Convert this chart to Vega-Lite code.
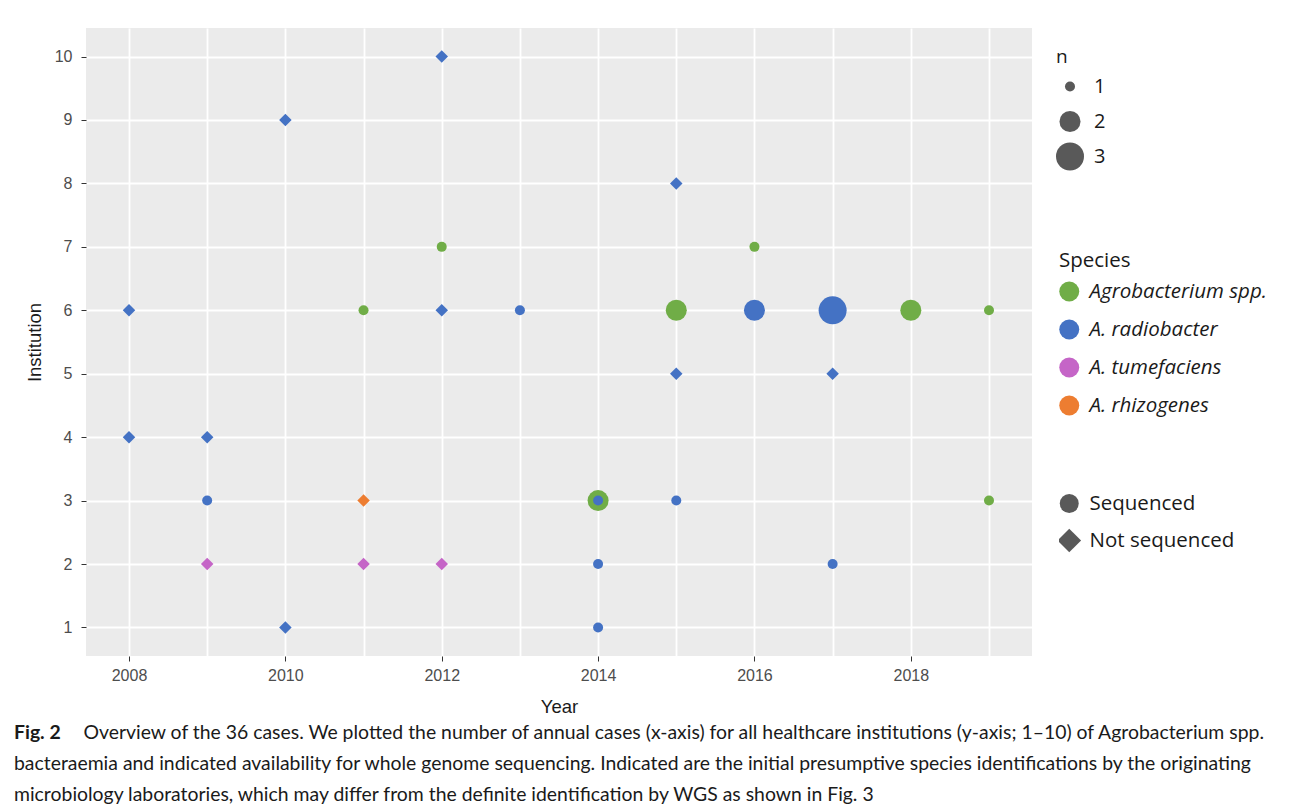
{
  "$schema": "https://vega.github.io/schema/vega-lite/v6.json",
  "width": 946,
  "height": 628,
  "autosize": {"type": "none"},
  "padding": {"left": 86, "top": 28, "right": 261, "bottom": 152},
  "background": "white",
  "config": {
    "view": {"fill": "#EBEBEB", "stroke": null},
    "font": "Liberation Sans"
  },
  "title": {
    "text": "Fig. 2",
    "subtitle": [
      "\u200b\u00a0\u00a0\u00a0\u00a0\u00a0\u00a0\u00a0\u00a0\u00a0\u00a0\u00a0\u00a0\u00a0\u00a0Overview of the 36 cases. We plotted the number of annual cases (x-axis) for all healthcare institutions (y-axis; 1–10) of Agrobacterium spp.",
      "bacteraemia and indicated availability for whole genome sequencing. Indicated are the initial presumptive species identifications by the originating",
      "microbiology laboratories, which may differ from the definite identification by WGS as shown in Fig. 3"
    ],
    "orient": "bottom",
    "anchor": "start",
    "frame": "group",
    "dx": -72,
    "offset": 8,
    "font": "Lato",
    "fontSize": 19.4,
    "fontWeight": "bold",
    "color": "#1a1a1a",
    "subtitleFont": "Lato",
    "subtitleFontSize": 19.4,
    "subtitleColor": "#1a1a1a",
    "subtitleLineHeight": 31,
    "subtitlePadding": -19.4
  },
  "data": {
    "values": [
      {"Year": 2008, "Institution": 6, "Species": "A. radiobacter", "Seq": "Not sequenced", "n": 1},
      {"Year": 2008, "Institution": 4, "Species": "A. radiobacter", "Seq": "Not sequenced", "n": 1},
      {"Year": 2009, "Institution": 4, "Species": "A. radiobacter", "Seq": "Not sequenced", "n": 1},
      {"Year": 2009, "Institution": 3, "Species": "A. radiobacter", "Seq": "Sequenced", "n": 1},
      {"Year": 2009, "Institution": 2, "Species": "A. tumefaciens", "Seq": "Not sequenced", "n": 1},
      {"Year": 2010, "Institution": 9, "Species": "A. radiobacter", "Seq": "Not sequenced", "n": 1},
      {"Year": 2010, "Institution": 1, "Species": "A. radiobacter", "Seq": "Not sequenced", "n": 1},
      {"Year": 2011, "Institution": 6, "Species": "Agrobacterium spp.", "Seq": "Sequenced", "n": 1},
      {"Year": 2011, "Institution": 3, "Species": "A. rhizogenes", "Seq": "Not sequenced", "n": 1},
      {"Year": 2011, "Institution": 2, "Species": "A. tumefaciens", "Seq": "Not sequenced", "n": 1},
      {"Year": 2012, "Institution": 10, "Species": "A. radiobacter", "Seq": "Not sequenced", "n": 1},
      {"Year": 2012, "Institution": 7, "Species": "Agrobacterium spp.", "Seq": "Sequenced", "n": 1},
      {"Year": 2012, "Institution": 6, "Species": "A. radiobacter", "Seq": "Not sequenced", "n": 1},
      {"Year": 2012, "Institution": 2, "Species": "A. tumefaciens", "Seq": "Not sequenced", "n": 1},
      {"Year": 2013, "Institution": 6, "Species": "A. radiobacter", "Seq": "Sequenced", "n": 1},
      {"Year": 2014, "Institution": 3, "Species": "Agrobacterium spp.", "Seq": "Sequenced", "n": 2},
      {"Year": 2014, "Institution": 3, "Species": "A. radiobacter", "Seq": "Sequenced", "n": 1},
      {"Year": 2014, "Institution": 2, "Species": "A. radiobacter", "Seq": "Sequenced", "n": 1},
      {"Year": 2014, "Institution": 1, "Species": "A. radiobacter", "Seq": "Sequenced", "n": 1},
      {"Year": 2015, "Institution": 8, "Species": "A. radiobacter", "Seq": "Not sequenced", "n": 1},
      {"Year": 2015, "Institution": 6, "Species": "Agrobacterium spp.", "Seq": "Sequenced", "n": 2},
      {"Year": 2015, "Institution": 5, "Species": "A. radiobacter", "Seq": "Not sequenced", "n": 1},
      {"Year": 2015, "Institution": 3, "Species": "A. radiobacter", "Seq": "Sequenced", "n": 1},
      {"Year": 2016, "Institution": 7, "Species": "Agrobacterium spp.", "Seq": "Sequenced", "n": 1},
      {"Year": 2016, "Institution": 6, "Species": "A. radiobacter", "Seq": "Sequenced", "n": 2},
      {"Year": 2017, "Institution": 6, "Species": "A. radiobacter", "Seq": "Sequenced", "n": 3},
      {"Year": 2017, "Institution": 5, "Species": "A. radiobacter", "Seq": "Not sequenced", "n": 1},
      {"Year": 2017, "Institution": 2, "Species": "A. radiobacter", "Seq": "Sequenced", "n": 1},
      {"Year": 2018, "Institution": 6, "Species": "Agrobacterium spp.", "Seq": "Sequenced", "n": 2},
      {"Year": 2019, "Institution": 6, "Species": "Agrobacterium spp.", "Seq": "Sequenced", "n": 1},
      {"Year": 2019, "Institution": 3, "Species": "Agrobacterium spp.", "Seq": "Sequenced", "n": 1}
    ]
  },
  "mark": {"type": "point", "filled": true, "opacity": 1, "strokeWidth": 0},
  "encoding": {
    "x": {
      "field": "Year",
      "type": "quantitative",
      "scale": {"domain": [2007.45, 2019.55], "nice": false, "zero": false},
      "axis": {
        "title": "Year",
        "values": [2008, 2009, 2010, 2011, 2012, 2013, 2014, 2015, 2016, 2017, 2018, 2019],
        "format": "d",
        "labelExpr": "datum.value % 2 == 0 ? datum.label : ''",
        "domain": false,
        "grid": true,
        "gridColor": "white",
        "gridWidth": 1.8,
        "tickColor": "#333333",
        "tickOpacity": {"condition": {"test": "datum.value % 2 == 1", "value": 0}, "value": 1},
        "tickSize": 5,
        "tickWidth": 1,
        "labelColor": "#4d4d4d",
        "labelFontSize": 16,
        "labelPadding": 6,
        "labelFont": "Liberation Sans",
        "titleFont": "Liberation Sans",
        "titleFontSize": 18.5,
        "titleFontWeight": "normal",
        "titleColor": "#1a1a1a",
        "titlePadding": 14
      }
    },
    "y": {
      "field": "Institution",
      "type": "quantitative",
      "scale": {"domain": [0.55, 10.45], "nice": false, "zero": false},
      "axis": {
        "title": "Institution",
        "values": [1, 1.5, 2, 2.5, 3, 3.5, 4, 4.5, 5, 5.5, 6, 6.5, 7, 7.5, 8, 8.5, 9, 9.5, 10],
        "format": "d",
        "labelExpr": "datum.value % 1 == 0 ? datum.label : ''",
        "domain": false,
        "grid": true,
        "gridColor": "white",
        "gridWidth": 1.8,
        "tickColor": "#333333",
        "tickOpacity": {"condition": {"test": "datum.value % 1 != 0", "value": 0}, "value": 1},
        "tickSize": 5,
        "tickWidth": 1,
        "labelColor": "#4d4d4d",
        "labelFontSize": 16,
        "labelPadding": 9,
        "labelFont": "Liberation Sans",
        "titleFont": "Liberation Sans",
        "titleFontSize": 18.5,
        "titleFontWeight": "normal",
        "titleColor": "#1a1a1a",
        "titlePadding": 10
      }
    },
    "color": {
      "field": "Species",
      "type": "nominal",
      "scale": {
        "domain": ["Agrobacterium spp.", "A. radiobacter", "A. tumefaciens", "A. rhizogenes"],
        "range": ["#70AD47", "#4472C4", "#C565C7", "#ED7D31"]
      },
      "legend": {
        "orient": "none",
        "legendX": 973,
        "legendY": 223,
        "title": "Species",
        "symbolType": "circle",
        "symbolSize": 400,
        "symbolStrokeWidth": 0,
        "labelFontStyle": "italic",
        "labelFont": "Open Sans",
        "labelFontSize": 20.5,
        "labelColor": "#1a1a1a",
        "labelOffset": 10,
        "labelLimit": 300,
        "titleFont": "Open Sans",
        "titleFontSize": 20.5,
        "titleFontWeight": "normal",
        "titleColor": "#1a1a1a",
        "titlePadding": 1,
        "clipHeight": 38,
        "rowPadding": 0
      }
    },
    "shape": {
      "field": "Seq",
      "type": "nominal",
      "scale": {
        "domain": ["Sequenced", "Not sequenced"],
        "range": ["circle", "M-1.25,0L0,-1.25L1.25,0L0,1.25Z"]
      },
      "legend": {
        "orient": "none",
        "legendX": 973,
        "legendY": 457,
        "title": null,
        "symbolSize": 360,
        "symbolFillColor": "#595959",
        "symbolStrokeWidth": 0,
        "labelFont": "Open Sans",
        "labelFontSize": 20.5,
        "labelColor": "#1a1a1a",
        "labelOffset": 10,
        "labelLimit": 300,
        "clipHeight": 37,
        "rowPadding": 0
      }
    },
    "size": {
      "field": "n",
      "type": "quantitative",
      "scale": {"domain": [1, 3], "range": [100, 784], "zero": false, "nice": false},
      "legend": {
        "orient": "none",
        "legendX": 970,
        "legendY": 20,
        "title": "n",
        "values": [1, 2, 3],
        "format": "d",
        "symbolFillColor": "#595959",
        "symbolStrokeWidth": 0,
        "labelFont": "Open Sans",
        "labelFontSize": 20,
        "labelColor": "#1a1a1a",
        "labelOffset": 10,
        "titleFont": "Open Sans",
        "titleFontSize": 19,
        "titleFontWeight": "normal",
        "titleColor": "#1a1a1a",
        "titlePadding": 2,
        "clipHeight": 35,
        "rowPadding": 0
      }
    }
  }
}
